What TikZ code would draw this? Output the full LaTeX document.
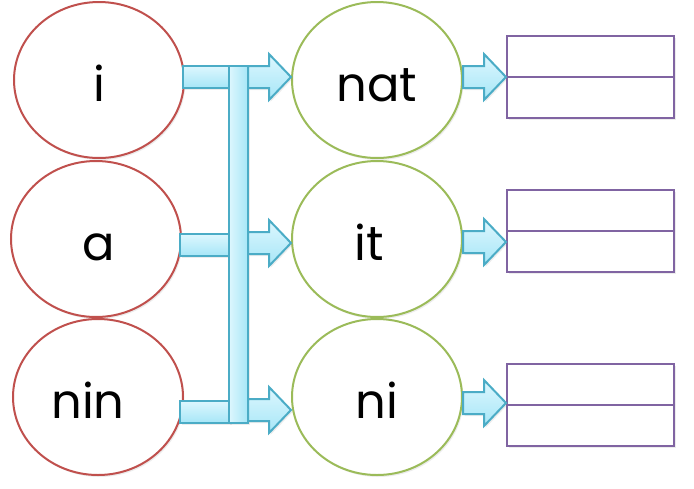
\documentclass[tikz,border=0pt]{standalone}
\usepackage{fontspec}
\setmainfont{Poppins}
\usepackage{tikz}
\usetikzlibrary{shapes.geometric}
\usetikzlibrary{calc}
\usetikzlibrary{shadows}

\definecolor{wordred}{HTML}{C0504D}
\definecolor{stemgreen}{HTML}{9BBB59}
\definecolor{slotpurple}{HTML}{8064A2}
\definecolor{barline}{HTML}{4BACC6}
\definecolor{bartop}{HTML}{DDF7FE}
\definecolor{barbot}{HTML}{A6E6F7}

% block arrow from #1 to the x of #2
\newcommand{\blockarrow}[2]{%
  \draw[barrow] let \p1=(#1), \p2=(#2) in
    (\x1,\y1+11pt) -- (\x2-22pt,\y1+11pt) -- (\x2-22pt,\y1+23pt) -- (\x2,\y1)
    -- (\x2-22pt,\y1-23pt) -- (\x2-22pt,\y1-11pt) -- (\x1,\y1-11pt) -- cycle;}

\begin{document}
\begin{tikzpicture}[
  x=1pt, y=-1pt,
  font=\fontsize{48}{48}\selectfont,
  soft/.style={drop shadow={opacity=0.15, shadow xshift=1.5pt, shadow yshift=-2pt}},
  word/.style={ellipse, draw=wordred, line width=2pt, fill=white, soft,
    minimum width=170pt, minimum height=156pt, inner sep=0pt,
    text height=42pt, text depth=0pt},
  stem/.style={word, draw=stemgreen},
  slot/.style={rectangle, draw=slotpurple, line width=2pt, fill=white, soft,
    minimum width=167pt, minimum height=82pt, inner sep=0pt},
  bar/.style={draw=barline, line width=2pt, top color=bartop, bottom color=barbot, soft},
  barrow/.style={bar}
]
\useasboundingbox (0,0) rectangle (694,488);

% Words
\node[word] (w1) at (99,80) {i};
\node[word] (w2) at (96,239) {\hspace*{6pt}a};
\node[word] (w3) at (98,397) {nin\hspace*{20pt}};

% Stems
\node[stem] (s1) at (377,80) {nat};
\node[stem] (s2) at (377,239) {it\hspace*{16pt}};
\node[stem] (s3) at (377,397) {ni};

% Empty slots
\node[slot] (r1) at (590.5,77) {};
\node[slot] (r2) at (590.5,231) {};
\node[slot] (r3) at (590.5,405) {};
\draw[slotpurple, line width=2pt] (r1.west) -- (r1.east);
\draw[slotpurple, line width=2pt] (r2.west) -- (r2.east);
\draw[slotpurple, line width=2pt] (r3.west) -- (r3.east);

% Bar rows
\coordinate (b1) at (0,77);
\coordinate (b2) at (0,245);
\coordinate (b3) at (0,412);

% Bars into the bus
\node[draw=none, minimum width=19pt, minimum height=357pt, inner sep=0pt] (bus) at (238.5,244.5) {};
\draw[bar] ($(w1.east |- b1)+(-2,-11)$) rectangle ($(bus.west |- b1)+(2,11)$);
\draw[bar] ($(w2.east |- b2)+(-2,-11)$) rectangle ($(bus.west |- b2)+(2,11)$);
\draw[bar] ($(w3.east |- b3)+(-4,-11)$) rectangle ($(bus.west |- b3)+(2,11)$);
\draw[bar, left color=bartop, right color=barbot] (bus.north west) rectangle (bus.south east);

% Arrows to the stems
\blockarrow{bus.east |- b1}{s1.west}
\blockarrow{bus.east |- 0,243}{s2.west}
\blockarrow{bus.east |- 0,410}{s3.west}

% Arrows to the slots
\blockarrow{s1.east |- r1}{r1.west}
\blockarrow{s2.east |- 0,242}{r2.west}
\blockarrow{s3.east |- 0,403}{r3.west}

\end{tikzpicture}
\end{document}
